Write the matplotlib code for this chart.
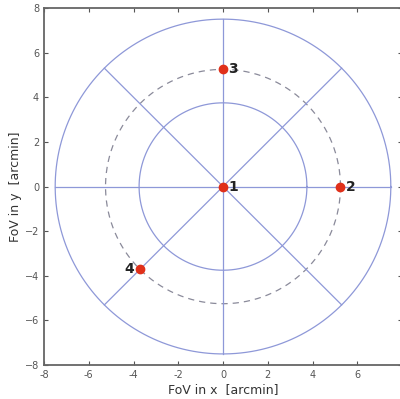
import numpy as np
import matplotlib.pyplot as plt

# field of view layout (arcmin)
radii = [3.75, 7.5]
dashed_radius = 5.25
angles_deg = [0, 45, 90, 135, 180, 225, 270, 315]
pt_labels = ["1", "2", "3", "4"]
pt_x = [0.0, 5.25, 0.0, -3.71]
pt_y = [0.0, 0.0, 5.25, -3.71]

line_col = "#8e98d8"

fig = plt.figure(figsize=(4.0, 3.99), dpi=100)
ax = fig.add_axes([0.11, 0.085, 0.895, 0.895])

t = np.linspace(0, 2 * np.pi, 400)
for r in radii:
    ax.plot(r * np.cos(t), r * np.sin(t), color=line_col, lw=0.9)
ax.plot(dashed_radius * np.cos(t), dashed_radius * np.sin(t), "--",
        color="#8a8a9a", lw=0.9, dashes=(5, 4))

for a in angles_deg:
    th = np.deg2rad(a)
    ax.plot([0, radii[-1] * np.cos(th)], [0, radii[-1] * np.sin(th)],
            color=line_col, lw=0.9)

ax.plot(pt_x, pt_y, "o", color="#e0301a", ms=6, zorder=5)
for lab, x, y in zip(pt_labels, pt_x, pt_y):
    if lab == "4":
        ax.text(x - 0.25, y, lab, ha="right", va="center",
                fontsize=10, fontweight="bold", color="#222222")
    else:
        ax.text(x + 0.25, y, lab, ha="left", va="center",
                fontsize=10, fontweight="bold", color="#222222")

ax.set_xlim(-8, 8)
ax.set_ylim(-8, 8)
ax.set_xticks(np.arange(-8, 9, 2))
ax.set_yticks(np.arange(-8, 9, 2))
ax.set_xticklabels([str(v) if v < 8 else "" for v in range(-8, 9, 2)])
ax.tick_params(direction="in", top=True, right=True, labelsize=7,
               length=3, colors="#555555")
for s in ax.spines.values():
    s.set_color("#666666")
    s.set_linewidth(1.3)
ax.set_xlabel("FoV in x  [arcmin]", fontsize=9, color="#333333", labelpad=2)
ax.set_ylabel("FoV in y  [arcmin]", fontsize=9, color="#333333", labelpad=2)

fig.savefig("out.png", dpi=100)
